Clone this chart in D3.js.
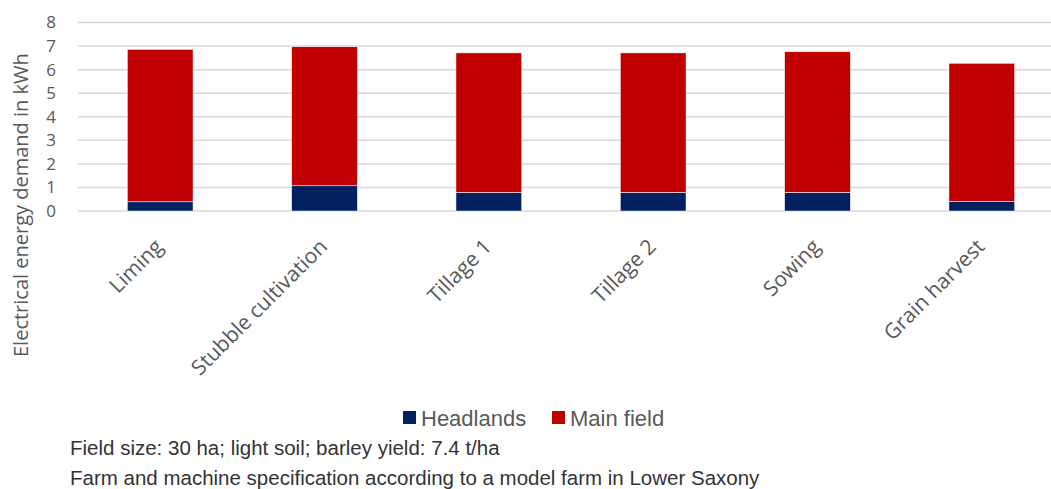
<!DOCTYPE html>
<html>
<head>
<meta charset="utf-8">
<script src="https://cdn.jsdelivr.net/npm/d3@7"></script>
<style>
  body { margin: 0; background: #fff; }
  svg { display: block; }
</style>
</head>
<body>
<div id="chart"></div>
<script>
var categories = ["Liming", "Stubble cultivation", "Tillage 1", "Tillage 2", "Sowing", "Grain harvest"];
var headlands = [0.39, 1.07, 0.79, 0.79, 0.79, 0.40];
var mainField = [6.47, 5.90, 5.92, 5.92, 5.97, 5.87];
var yTicks = [0, 1, 2, 3, 4, 5, 6, 7, 8];
var seriesNames = ["Headlands", "Main field"];
var seriesColors = ["#002060", "#C00000"];
var notes = [
  "Field size: 30 ha; light soil; barley yield: 7.4 t/ha",
  "Farm and machine specification according to a model farm in Lower Saxony"
];

var svgWidth = 1051;
var svgHeight = 489;

var svg = d3.select("#chart")
  .append("svg")
  .attr("width", svgWidth)
  .attr("height", svgHeight);

// build stacked rows from the arrays
var rows = categories.map(function(c, i) {
  return { cat: c, "Headlands": headlands[i], "Main field": mainField[i] };
});
var stacked = d3.stack().keys(seriesNames)(rows);

var x = d3.scaleBand()
  .domain(categories)
  .range([78, 1064])
  .paddingInner(0.6)
  .paddingOuter(0.3);

var y = d3.scaleLinear()
  .domain([0, 8])
  .range([211, 22.5]);

// gridlines
svg.append("g")
  .selectAll("line")
  .data(yTicks)
  .enter()
  .append("line")
  .attr("x1", 78)
  .attr("x2", svgWidth)
  .attr("y1", d => y(d))
  .attr("y2", d => y(d))
  .attr("stroke", "#d9d9d9")
  .attr("stroke-width", 1.5);

// y axis labels
var yAxis = svg.append("g")
  .attr("transform", "translate(62, 0)")
  .call(d3.axisLeft(y).tickValues(yTicks).tickSize(0).tickPadding(6));
yAxis.select(".domain").remove();
yAxis.selectAll("text")
  .style("font-family", "'Open Sans', sans-serif")
  .style("font-size", "17px")
  .attr("fill", "#595959");

// bars
svg.append("g")
  .selectAll("g")
  .data(stacked)
  .enter()
  .append("g")
  .attr("fill", (d, i) => seriesColors[i])
  .selectAll("rect")
  .data(d => d)
  .enter()
  .append("rect")
  .attr("x", d => x(d.data.cat))
  .attr("y", d => y(d[1]))
  .attr("width", x.bandwidth())
  .attr("height", d => y(d[0]) - y(d[1]))
  .attr("stroke", "#ffffff")
  .attr("stroke-width", 0.5);

// category labels, rotated
svg.append("g")
  .selectAll("text")
  .data(categories)
  .enter()
  .append("text")
  .attr("transform", d => `translate(${x(d) + x.bandwidth() / 2 + 4}, 248) rotate(-45)`)
  .attr("text-anchor", "end")
  .style("font-family", "'Open Sans', sans-serif")
  .style("font-size", "21px")
  .attr("fill", "#595959")
  .text(d => d);

// y axis title
svg.append("text")
  .attr("transform", "translate(28, 357) rotate(-90)")
  .attr("text-anchor", "start")
  .style("font-family", "'Open Sans', sans-serif")
  .style("font-size", "20px")
  .attr("fill", "#595959")
  .text("Electrical energy demand in kWh");

// legend
var legendX = [403, 552];
var legend = svg.append("g");
seriesNames.forEach(function(name, i) {
  legend.append("rect")
    .attr("x", legendX[i])
    .attr("y", 411)
    .attr("width", 13)
    .attr("height", 13)
    .attr("fill", seriesColors[i]);
  legend.append("text")
    .attr("x", legendX[i] + 18)
    .attr("y", 426)
    .style("font-family", "'Liberation Sans Narrow', 'Liberation Sans', sans-serif")
    .style("font-size", "22px")
    .attr("fill", "#595959")
    .text(name);
});

// notes below the chart
svg.append("g")
  .selectAll("text")
  .data(notes)
  .enter()
  .append("text")
  .attr("x", 70)
  .attr("y", (d, i) => 455 + i * 30)
  .style("font-family", "'Liberation Sans Narrow', 'Liberation Sans', sans-serif")
  .style("font-size", "20.5px")
  .attr("fill", "#333333")
  .text(d => d);
</script>
</body>
</html>
